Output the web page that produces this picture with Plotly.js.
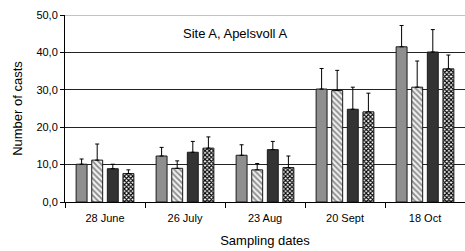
<!DOCTYPE html>
<html><head><meta charset="utf-8">
<script src="https://cdn.plot.ly/plotly-3.0.1.min.js"></script>
<style>html,body{margin:0;padding:0;background:#fff}</style>
</head><body><div id="chart" style="width:465px;height:251px"></div>
<script>
const categories = ["28 June", "26 July", "23 Aug", "20 Sept", "18 Oct"];
const series1 = [10.1, 12.3, 12.5, 30.2, 41.5];
const err1 = [1.4, 2.3, 2.8, 5.5, 5.7];
const series2 = [11.2, 9.0, 8.6, 29.8, 30.7];
const err2 = [4.3, 2.0, 1.7, 5.4, 7.0];
const series3 = [8.9, 13.3, 14.0, 24.8, 40.1];
const err3 = [1.2, 2.9, 2.2, 5.9, 6.0];
const series4 = [7.6, 14.4, 9.2, 24.1, 35.6];
const err4 = [1.0, 3.0, 3.1, 5.0, 3.7];
const yTicks = [0, 10, 20, 30, 40, 50];
const yTickText = ["0,0", "10,0", "20,0", "30,0", "40,0", "50,0"];

function tr(y, e, fill, pat) {
  const m = {color: fill, line: {color: "#1a1a1a", width: 1}};
  if (pat) m.pattern = pat;
  return {
    type: "bar", x: categories, y: y, marker: m,
    error_y: {type: "data", array: e, symmetric: false, arrayminus: e.map(() => 0),
              color: "#000", thickness: 1, width: 2},
    showlegend: false
  };
}
const data = [
  tr(series1, err1, "#8f8f8f"),
  tr(series2, err2, "#d6d6d6", {shape: "\\", fgcolor: "#8a8a8a", bgcolor: "#f0f0f0", size: 4, solidity: 0.45}),
  tr(series3, err3, "#333333"),
  tr(series4, err4, "#ffffff", {shape: "x", fgcolor: "#000", bgcolor: "#fff", size: 3, solidity: 0.6})
];
const layout = {
  width: 465, height: 251,
  margin: {l: 65, r: 0, t: 15, b: 49},
  paper_bgcolor: "#fff", plot_bgcolor: "#fff",
  font: {family: "Liberation Sans, Arial, sans-serif", color: "#000"},
  barmode: "group", bargap: 0.22, bargroupgap: 0.3,
  xaxis: {
    type: "category", showgrid: false, showline: true, linecolor: "#000", linewidth: 1,
    ticks: "outside", tickson: "boundaries", ticklen: 5, tickcolor: "#000",
    tickfont: {size: 11}, zeroline: false, ticklabelstandoff: 6,
    title: {text: "Sampling dates", font: {size: 13}, standoff: 12}
  },
  yaxis: {
    range: [0, 50], tickvals: yTicks, ticktext: yTickText,
    showgrid: true, gridcolor: "#222", gridwidth: 1,
    showline: true, linecolor: "#000", linewidth: 1,
    ticks: "outside", ticklen: 4, tickcolor: "#000", tickfont: {size: 11},
    zeroline: false,
    title: {text: "Number of casts", font: {size: 13}, standoff: 10}
  },
  shapes: [{type: "line", xref: "paper", yref: "y", x0: 0, x1: 1, y0: 50, y1: 50,
            line: {color: "#888", width: 1}, layer: "above"}],
  annotations: [{
    text: "Site A, Apelsvoll A", xref: "paper", yref: "paper", x: 0.425, y: 0.9,
    showarrow: false, font: {size: 13}, xanchor: "center", yanchor: "middle"
  }]
};
Plotly.newPlot("chart", data, layout, {displayModeBar: false, staticPlot: true});
</script></body></html>
